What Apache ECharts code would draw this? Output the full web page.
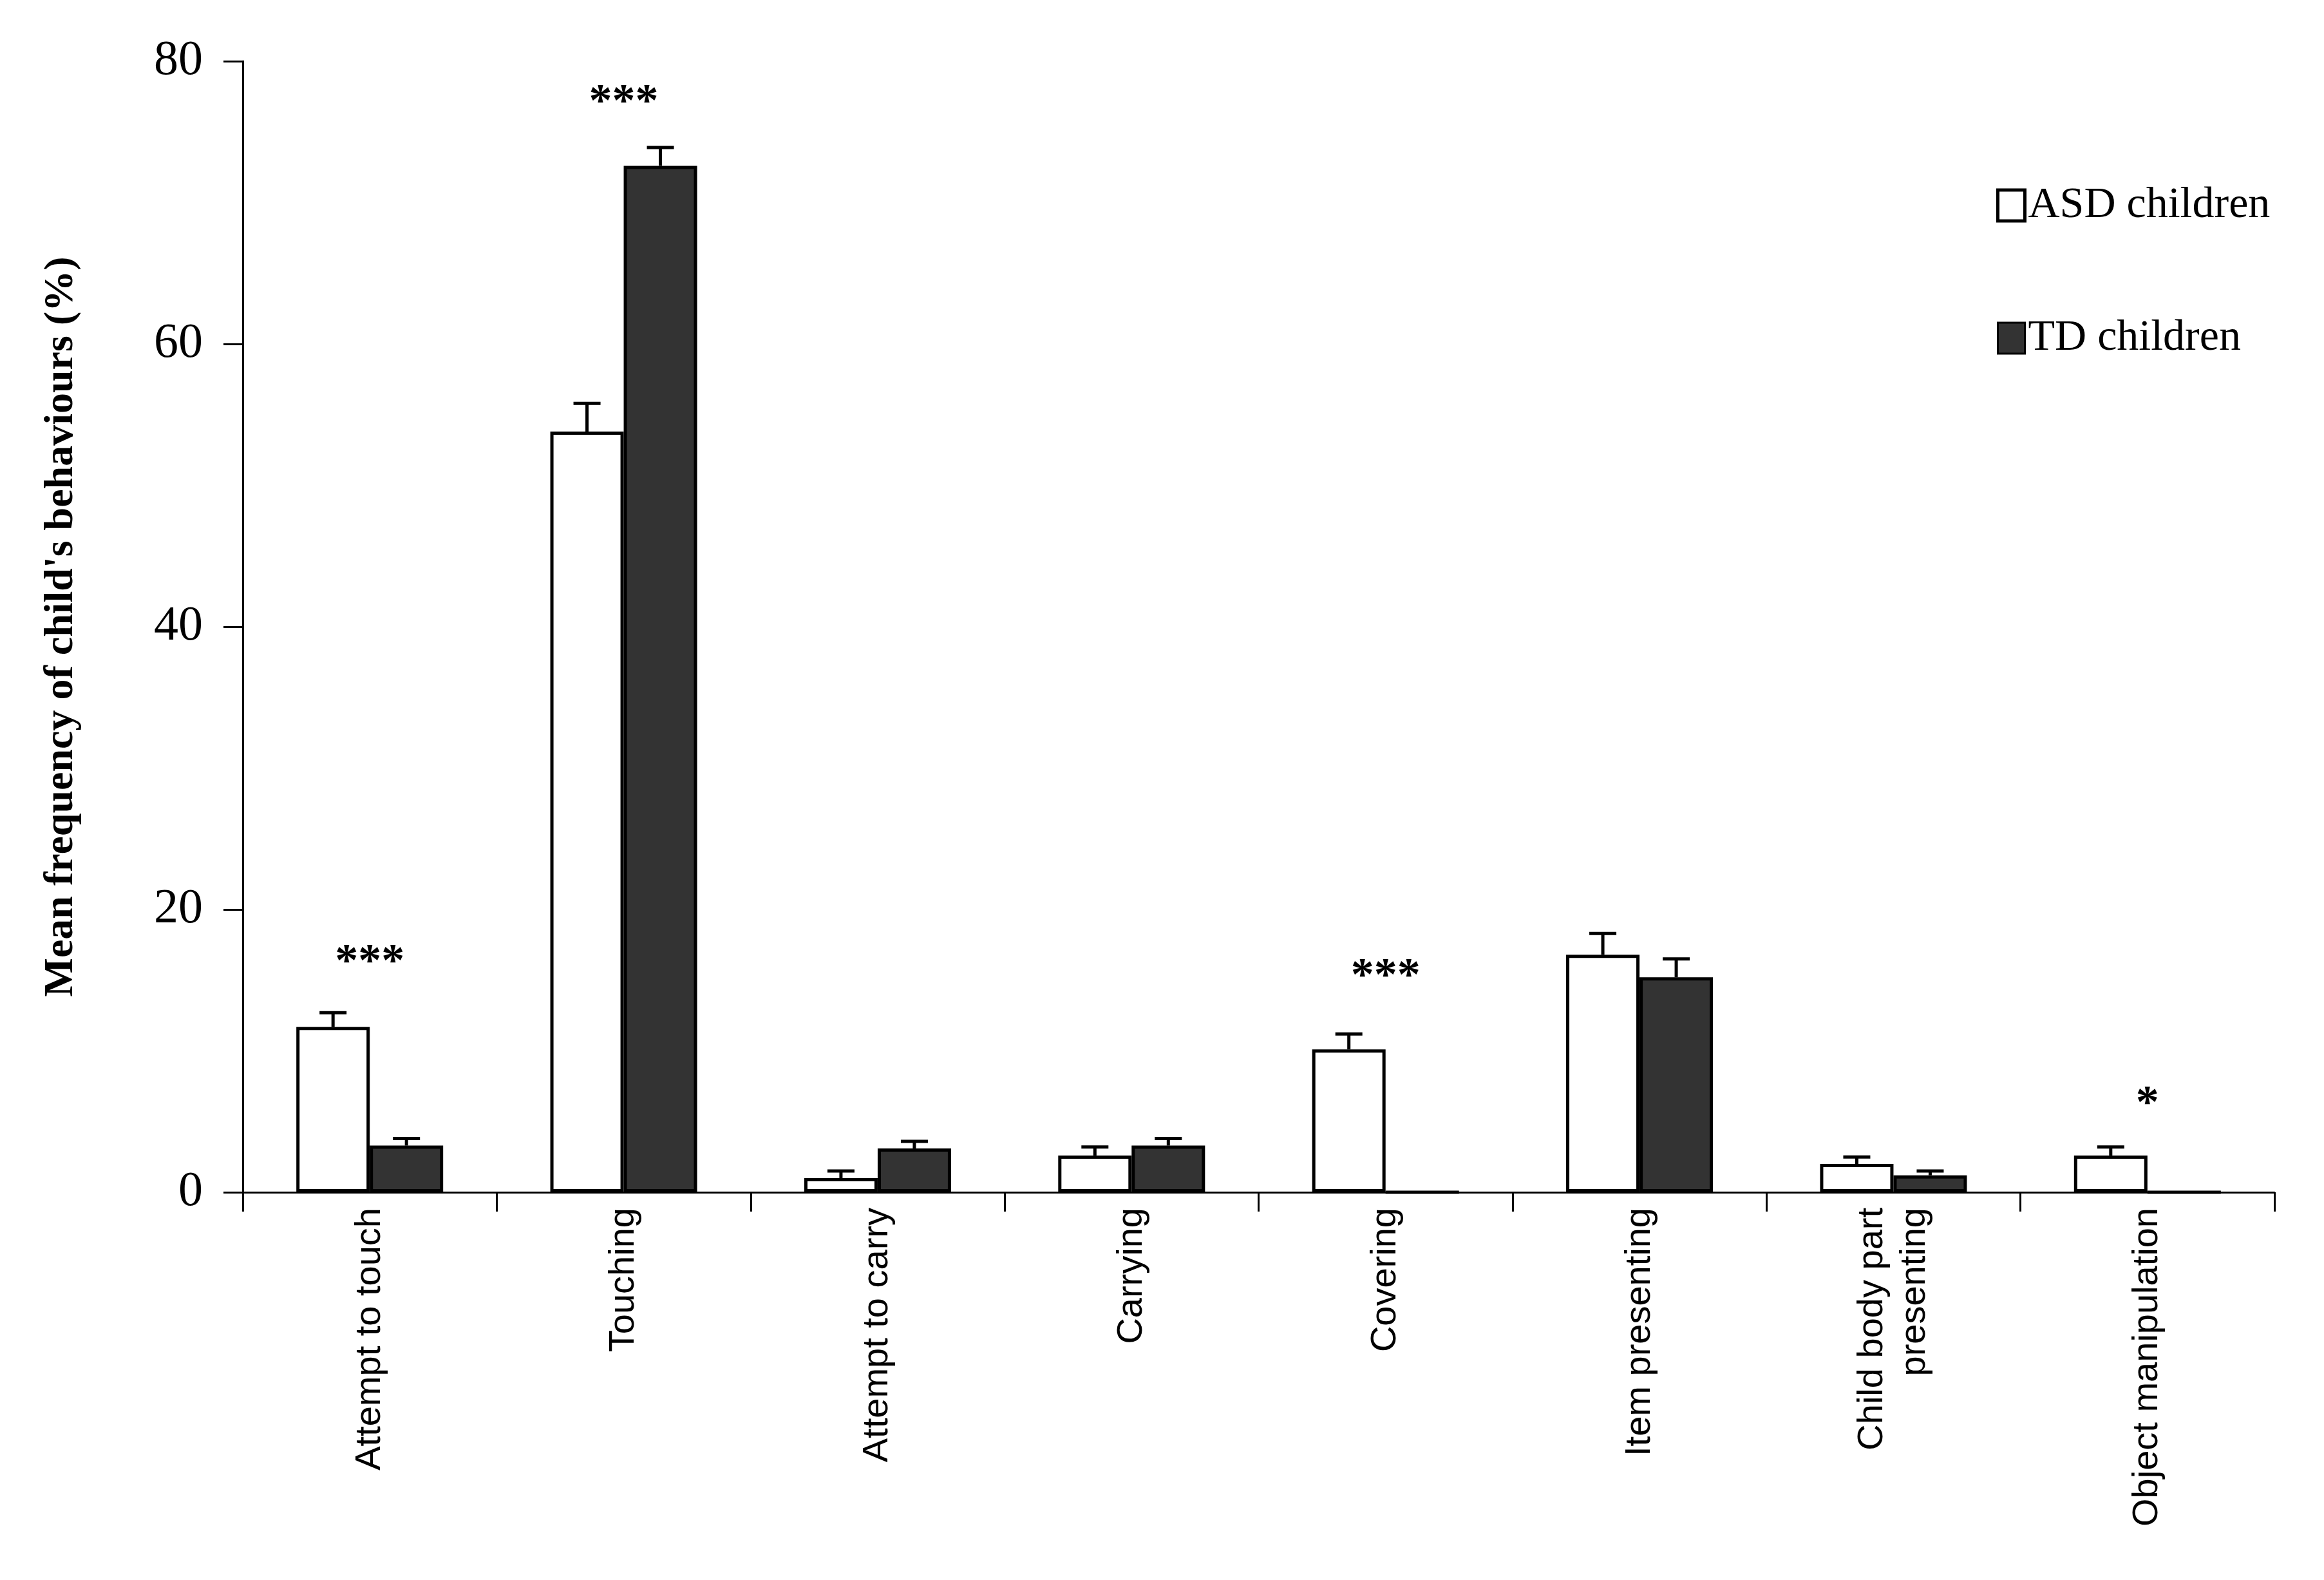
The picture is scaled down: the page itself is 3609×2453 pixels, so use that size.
<!DOCTYPE html>
<html>
<head>
<meta charset="utf-8">
<script src="https://cdn.jsdelivr.net/npm/echarts@6/dist/echarts.min.js"></script>
<style>html,body{margin:0;background:#fff}#chart{width:3609px;height:2453px}</style>
</head>
<body>
<div id="chart"></div>
<script>
var categories = ['Attempt to touch', 'Touching', 'Attempt to carry', 'Carrying', 'Covering',
    'Item presenting', 'Child body part\npresenting', 'Object manipulation'];
var asdMean = [11.7, 53.8, 1.0, 2.6, 10.1, 16.8, 2.0, 2.6];
var asdErr = [1.0, 2.0, 0.5, 0.6, 1.1, 1.5, 0.5, 0.6];
var tdMean = [3.3, 72.6, 3.1, 3.3, 0, 15.2, 1.2, 0];
var tdErr = [0.5, 1.3, 0.5, 0.5, 0, 1.3, 0.3, 0];
var starText = ['***', '***', '', '', '***', '', '', '*'];
var starY = [16.2, 77.0, 0, 0, 15.2, 0, 0, 6.2];
var yTicks = [0, 20, 40, 60, 80];

var BW = 114;

function errSeries(means, errs, offset) {
    return {
        type: 'custom',
        silent: true,
        z: 1,
        data: means.map(function (m, i) { return [i, m, m + errs[i]]; }),
        renderItem: function (params, api) {
            var lo = api.coord([api.value(0), api.value(1)]);
            var hi = api.coord([api.value(0), api.value(2)]);
            if (api.value(2) <= api.value(1)) return null;
            var x = lo[0] + offset;
            var st = { stroke: '#000', lineWidth: 5 };
            return {
                type: 'group',
                children: [
                    { type: 'line', shape: { x1: x, y1: lo[1], x2: x, y2: hi[1] }, style: st },
                    { type: 'line', shape: { x1: x - 21, y1: hi[1], x2: x + 21, y2: hi[1] }, style: st }
                ]
            };
        }
    };
}

var chart = echarts.init(document.getElementById('chart'));
chart.setOption({
    animation: false,
    grid: { left: 377, right: 77, top: 95, bottom: 602 },
    legend: {
        orient: 'vertical', left: 3095, top: 280, itemGap: 138,
        itemWidth: 42, itemHeight: 48, icon: 'rect',
        textStyle: { fontFamily: 'Liberation Serif', fontSize: 68, color: '#000', padding: [0, 0, 0, 0] },
        data: [
            { name: 'ASD children', itemStyle: { color: '#fff', borderColor: '#000', borderWidth: 5 } },
            { name: 'TD children', itemStyle: { color: '#333', borderColor: '#000', borderWidth: 3 } }
        ]
    },
    xAxis: {
        type: 'category', data: categories,
        axisLine: { lineStyle: { color: '#000', width: 3 } },
        axisTick: { show: true, interval: 0, length: 30, lineStyle: { color: '#000', width: 3 } },
        axisLabel: {
            rotate: 90, margin: 24, color: '#000', fontFamily: 'Liberation Sans', fontSize: 56,
            lineHeight: 66, interval: 0
        }
    },
    yAxis: {
        type: 'value', min: 0, max: 80, interval: 20,
        name: "Mean frequency of child's behaviours (%)", nameLocation: 'middle', nameGap: 250,
        nameTextStyle: { fontFamily: 'Liberation Serif', fontSize: 64, fontWeight: 'bold', color: '#000' },
        splitLine: { show: false },
        axisLine: { show: true, lineStyle: { color: '#000', width: 3 } },
        axisTick: { show: true, length: 30, lineStyle: { color: '#000', width: 3 } },
        axisLabel: {
            margin: 62, color: '#000', fontFamily: 'Liberation Serif', fontSize: 76,
            formatter: function (v) { return yTicks.indexOf(v) >= 0 ? String(v) : ''; }
        }
    },
    series: [
        {
            name: 'ASD children', type: 'bar', data: asdMean, barWidth: BW, barGap: '0%',
            itemStyle: { color: '#fff', borderColor: '#000', borderWidth: 5 }
        },
        {
            name: 'TD children', type: 'bar', data: tdMean, barWidth: BW, barGap: '0%',
            itemStyle: { color: '#333', borderColor: '#000', borderWidth: 5 }
        },
        errSeries(asdMean, asdErr, -BW / 2),
        errSeries(tdMean, tdErr, BW / 2),
        {
            type: 'custom', silent: true,
            data: starY.map(function (y, i) { return [i, y, starText[i]]; }),
            renderItem: function (params, api) {
                var p = api.coord([api.value(0), api.value(1)]);
                var t = starText[params.dataIndex];
                if (!t) return null;
                return {
                    type: 'text',
                    style: {
                        x: p[0], y: p[1], text: t, align: 'center', verticalAlign: 'middle',
                        fontFamily: 'Liberation Serif', fontSize: 72, fontWeight: 'bold', fill: '#000'
                    }
                };
            }
        }
    ]
});
</script>
</body>
</html>
